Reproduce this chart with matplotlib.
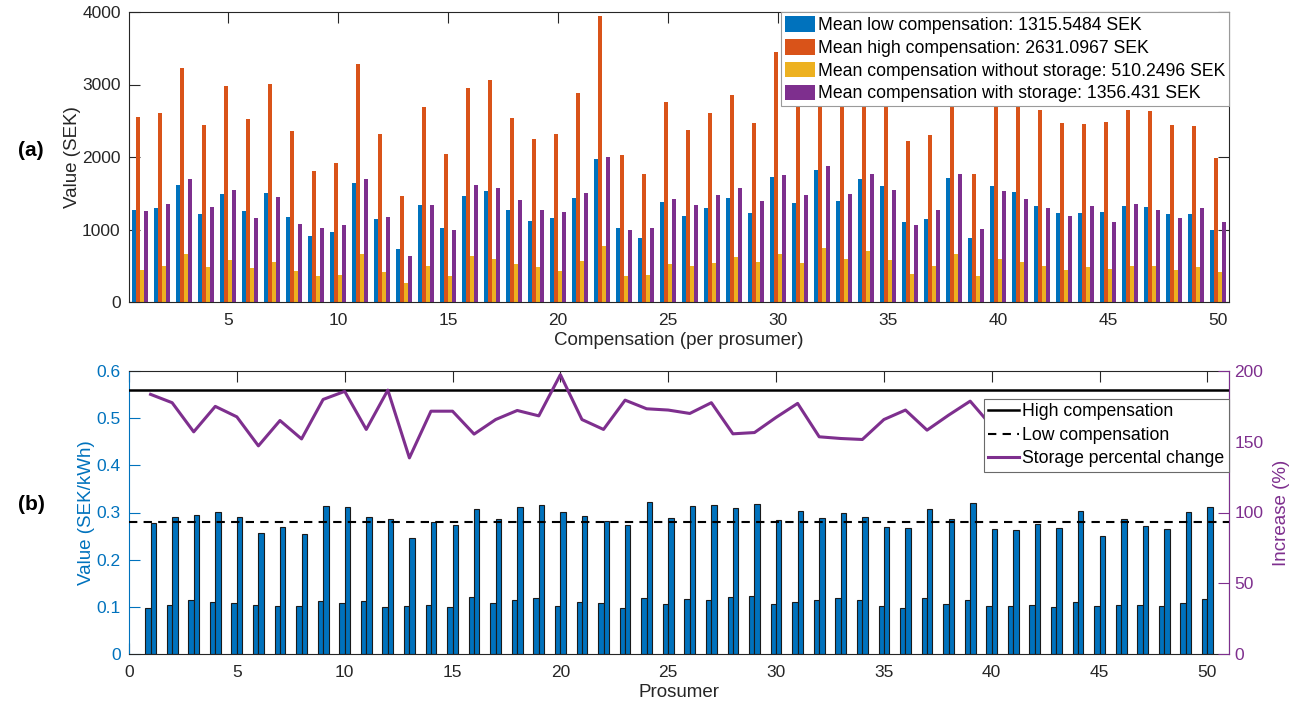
import matplotlib
matplotlib.use("Agg")
import matplotlib.pyplot as plt
import numpy as np

plt.rcParams['font.family'] = ['Liberation Sans', 'DejaVu Sans']

# ---------------- data ----------------
prosumers = list(range(1, 51))

low_comp = [1275, 1303, 1615, 1220, 1495, 1261, 1505, 1179, 904, 959,
            1642, 1151, 734, 1344, 1018, 1468, 1532, 1271, 1124, 1156,
            1440, 1977, 1014, 885, 1381, 1188, 1303, 1431, 1234, 1725,
            1362, 1817, 1399, 1697, 1606, 1110, 1151, 1716, 885, 1606,
            1518, 1321, 1234, 1229, 1243, 1326, 1317, 1220, 1211, 991]
high_comp = [2550, 2606, 3225, 2445, 2982, 2528, 3005, 2353, 1807, 1917,
             3284, 2312, 1459, 2683, 2037, 2945, 3064, 2537, 2252, 2312,
             2881, 3950, 2032, 1771, 2761, 2376, 2606, 2862, 2472, 3450,
             2724, 3634, 2798, 3394, 3212, 2216, 2303, 3432, 1766, 3212,
             3036, 2642, 2468, 2454, 2482, 2651, 2633, 2440, 2422, 1982]
comp_no_storage = [445, 491, 656, 482, 578, 468, 546, 422, 362, 367,
                   656, 408, 266, 495, 362, 628, 592, 518, 477, 422,
                   569, 771, 358, 376, 518, 495, 532, 615, 546, 656,
                   532, 739, 592, 697, 583, 390, 491, 656, 362, 587,
                   550, 491, 445, 482, 450, 500, 491, 440, 477, 413]
comp_storage = [1261, 1358, 1697, 1312, 1550, 1156, 1445, 1073, 1014, 1060,
                1697, 1179, 638, 1344, 995, 1619, 1573, 1413, 1271, 1248,
                1505, 1995, 995, 1023, 1422, 1339, 1477, 1578, 1399, 1752,
                1482, 1881, 1495, 1766, 1546, 1064, 1271, 1761, 1009, 1532,
                1427, 1298, 1183, 1326, 1106, 1358, 1275, 1161, 1303, 1106]

legend_top = ["Mean low compensation: 1315.5484 SEK",
              "Mean high compensation: 2631.0967 SEK",
              "Mean compensation without storage: 510.2496 SEK",
              "Mean compensation with storage: 1356.431 SEK"]

price_a = [0.0978, 0.1048, 0.1148, 0.1098, 0.1084, 0.1041, 0.1020, 0.1013, 0.1126, 0.1084,
           0.1126, 0.0999, 0.1027, 0.1034, 0.1006, 0.1204, 0.1084, 0.1148, 0.1183, 0.1020,
           0.1105, 0.1091, 0.0978, 0.1183, 0.1063, 0.1169, 0.1148, 0.1211, 0.1233, 0.1070,
           0.1105, 0.1140, 0.1190, 0.1155, 0.1020, 0.0985, 0.1190, 0.1063, 0.1148, 0.1027,
           0.1020, 0.1041, 0.1006, 0.1105, 0.1013, 0.1048, 0.1041, 0.1013, 0.1091, 0.1176]
price_b = [0.2777, 0.2911, 0.2947, 0.3011, 0.2911, 0.2564, 0.2699, 0.2550, 0.3145, 0.3110,
           0.2897, 0.2862, 0.2458, 0.2798, 0.2727, 0.3081, 0.2869, 0.3124, 0.3166, 0.3018,
           0.2926, 0.2819, 0.2741, 0.3230, 0.2876, 0.3145, 0.3166, 0.3089, 0.3174, 0.2848,
           0.3039, 0.2890, 0.2989, 0.2911, 0.2699, 0.2678, 0.3081, 0.2869, 0.3195, 0.2656,
           0.2628, 0.2748, 0.2678, 0.3025, 0.2493, 0.2862, 0.2713, 0.2656, 0.3004, 0.3117]
storage_change = [183.5, 177.6, 157.0, 175.0, 167.6, 147.1, 165.0, 152.0, 179.9, 185.6,
                  158.7, 186.5, 138.6, 171.6, 171.6, 155.4, 165.7, 172.1, 168.3, 197.4,
                  165.7, 158.7, 179.4, 173.3, 172.4, 170.0, 177.6, 155.6, 156.5, 167.2,
                  177.1, 153.5, 152.3, 151.6, 165.7, 172.4, 158.2, 168.8, 178.7, 161.0,
                  159.0, 164.0, 166.0, 175.0, 146.0, 172.0, 160.0, 164.0, 173.0, 168.0]
high_level = 0.56
low_level = 0.28
legend_bottom = ["High compensation", "Low compensation", "Storage percental change"]

# ---------------- style ----------------
BLUE = '#0072BD'
ORANGE = '#D95319'
YELLOW = '#EDB120'
PURPLE = '#7E2F8E'
AX = '#262626'
TICK_FS = 12.5
LABEL_FS = 13.5
LEG_FS = 12.7

fig = plt.figure(figsize=(13.01, 7.09), dpi=100)
W, H = 1301, 709


def style_axes(ax):
    for s in ax.spines.values():
        s.set_color(AX)
        s.set_linewidth(0.8)
    ax.tick_params(direction='in', length=8, width=0.8, colors=AX,
                   labelsize=TICK_FS, top=True, right=True, labelcolor=AX)
    ax.tick_params(axis='x', pad=8)
    ax.tick_params(axis='y', pad=6)


# ---------------- top chart ----------------
ax1 = fig.add_axes([129 / W, 1 - 302 / H, 1100 / W, 290 / H])
x = np.array(prosumers, dtype=float)
gw = min(0.8, 4 / 5.5)
step = gw / 4
bw = 0.15
series = [low_comp, high_comp, comp_no_storage, comp_storage]
colors = [BLUE, ORANGE, YELLOW, PURPLE]
handles = []
for i, (vals, c) in enumerate(zip(series, colors)):
    off = (i - 1.5) * step
    h = ax1.bar(x + off, vals, width=bw, color=c, edgecolor='none', zorder=2)
    handles.append(h)
ax1.set_xlim(0.5, 50.5)
ax1.set_ylim(0, 4000)
ax1.set_xticks(range(5, 51, 5))
ax1.set_yticks(range(0, 4001, 1000))
style_axes(ax1)
ax1.set_xlabel("Compensation (per prosumer)", fontsize=LABEL_FS, color=AX, labelpad=3)
ax1.set_ylabel("Value (SEK)", fontsize=LABEL_FS, color=AX, labelpad=1)
leg1 = ax1.legend(handles, legend_top, loc='upper right', borderaxespad=0,
                  fontsize=LEG_FS, frameon=True, fancybox=False, framealpha=1,
                  edgecolor='#9a9a9a', handlelength=1.7, handleheight=1.0,
                  handletextpad=0.15, labelspacing=0.28, borderpad=0.22)
leg1.get_frame().set_linewidth(0.8)
leg1.set_zorder(10)

# ---------------- bottom chart ----------------
ax2 = fig.add_axes([129 / W, 1 - 654 / H, 1100 / W, 283 / H])
ax2.bar(x - 0.125, price_a, width=0.25, color=BLUE, edgecolor='#1a1a1a',
        linewidth=0.8, zorder=2)
ax2.bar(x + 0.125, price_b, width=0.25, color=BLUE, edgecolor='#1a1a1a',
        linewidth=0.8, zorder=2)
lh = ax2.axhline(high_level, color='black', linewidth=1.8, zorder=3)
ll = ax2.axhline(low_level, color='black', linewidth=1.5, linestyle=(0, (4, 3)), zorder=3)
ax2.set_xlim(0, 51)
ax2.set_ylim(0, 0.6)
ax2.set_xticks(range(0, 51, 5))
ax2.set_yticks(np.arange(0, 0.61, 0.1))
ax2.set_yticklabels(["0", "0.1", "0.2", "0.3", "0.4", "0.5", "0.6"])
style_axes(ax2)
ax2.tick_params(axis='y', colors=BLUE, labelcolor=BLUE, right=False)
ax2.spines['left'].set_color(BLUE)
ax2.set_xlabel("Prosumer", fontsize=LABEL_FS, color=AX, labelpad=3)
ax2.set_ylabel("Value (SEK/kWh)", fontsize=LABEL_FS, color=BLUE, labelpad=1)

ax3 = ax2.twinx()
lp, = ax3.plot(x, storage_change, color=PURPLE, linewidth=2.2, zorder=3)
ax3.set_ylim(0, 200)
ax3.set_yticks(range(0, 201, 50))
for s in ax3.spines.values():
    s.set_visible(False)
ax3.spines['right'].set_visible(True)
ax3.spines['right'].set_color(PURPLE)
ax3.spines['right'].set_linewidth(0.8)
ax3.tick_params(axis='y', direction='in', length=8, width=0.8, colors=PURPLE,
                labelcolor=PURPLE, labelsize=TICK_FS, pad=4)
ax3.set_ylabel("Increase (%)", fontsize=LABEL_FS, color=PURPLE, labelpad=7)

leg2 = ax3.legend([lh, ll, lp], legend_bottom, loc='upper right',
                  bbox_to_anchor=(1.0, (654 - 399) / 283), borderaxespad=0,
                  fontsize=LEG_FS, frameon=True, fancybox=False, framealpha=1,
                  edgecolor='#6a6a6a', handlelength=1.75, handletextpad=0.2,
                  labelspacing=0.36, borderpad=0.25)
leg2.get_frame().set_linewidth(0.8)

fig.text(18 / W, 1 - 150 / H, "(a)", fontsize=15, fontweight='bold', va='center', ha='left')
fig.text(18 / W, 1 - 505 / H, "(b)", fontsize=15, fontweight='bold', va='center', ha='left')

fig.savefig("out.png", dpi=100)
